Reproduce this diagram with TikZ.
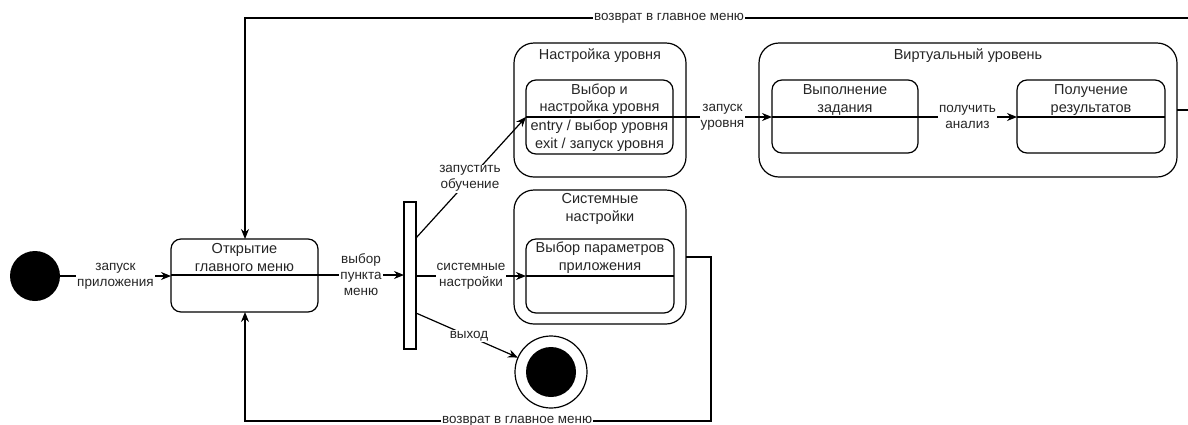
\documentclass[tikz,border=0pt]{standalone}
\usepackage{fontspec}
\setmainfont{Liberation Sans}
\usetikzlibrary{arrows.meta}
\begin{document}
\begin{tikzpicture}[x=1pt,y=-1pt,
  every node/.style={inner sep=0pt,outer sep=0pt},
  lw/.style={line width=1.2pt},
  stbox/.style={draw,lw,rounded corners=10pt},
  obox/.style={draw,lw,rounded corners=20pt},
  stxt/.style={font=\fontsize{14.5}{18}\selectfont,align=center,text=black!85},
  lbl/.style={font=\fontsize{13.5}{16}\selectfont,align=center,fill=white,inner sep=1pt,text=black!85},
  rlbl/.style={font=\fontsize{13.4}{15}\selectfont,fill=white,inner sep=1pt,text=black!85},
  arr/.style={lw,-{Stealth[length=10pt,width=8pt]}}
]
\useasboundingbox (0,0) rectangle (1188,424);
\clip (0,0) rectangle (1188,424);
\fill[white] (0,0) rectangle (1188,424);

% states
\node[circle,fill=black,minimum size=50pt] (init) at (35,276) {};
\node[stbox,minimum width=147pt,minimum height=73pt] (menu) at (244.5,275.5) {};
\node[stxt] (menutxt) at (244.5,258) {Открытие\\главного меню};
\draw[lw] (menu.west |- 0,275) coordinate (mdl) -- (menu.east |- 0,275) coordinate (mdr);

\node[draw,lw,fill=white,minimum width=12pt,minimum height=147pt] (bar) at (410,275.5) {};

\node[obox,minimum width=172pt,minimum height=134pt] (nastr) at (600,110) {};
\node[stxt] (nastrtxt) at (600,56) {Настройка уровня};
\node[stbox,minimum width=147pt,minimum height=74pt] (vybor) at (599.5,117) {};
\node[stxt,font=\fontsize{14.5}{17}\selectfont] (vybortxt) at (599.5,99.5) {Выбор и\\настройка уровня};
\node[stxt] (vyboract) at (599.5,136) {entry / выбор уровня\\exit / запуск уровня};
\draw[lw] (vybor.west) -- (vybor.east);

\node[obox,minimum width=172pt,minimum height=134pt] (sys) at (600,257) {};
\node[stxt] (systxt) at (600,209) {Системные\\настройки};
\node[stbox,minimum width=148pt,minimum height=74pt] (sysin) at (600,276) {};
\node[stxt] (sysintxt) at (600,258) {Выбор параметров\\приложения};
\draw[lw] (sysin.west) -- (sysin.east);

\node[circle,draw,lw,minimum size=72pt] (final) at (551,372) {};
\node[circle,fill=black,minimum size=50pt] (finalin) at (551,372) {};

\node[obox,minimum width=418pt,minimum height=134pt] (virt) at (968,110) {};
\node[stxt] (virttxt) at (968,56) {Виртуальный уровень};
\node[stbox,minimum width=146pt,minimum height=73pt] (vyp) at (845,116.5) {};
\node[stxt] (vyptxt) at (845,100) {Выполнение\\задания};
\draw[lw] (vyp.west |- 0,117) -- (vyp.east |- 0,117);
\node[stbox,minimum width=148pt,minimum height=73pt] (pol) at (1091,116.5) {};
\node[stxt] (poltxt) at (1091,100) {Получение\\результатов};
\draw[lw] (pol.west |- 0,117) -- (pol.east |- 0,117);

% transitions
\draw[arr] (init.east |- 0,276) -- node[lbl] (l1) {запуск\\приложения} (menu.west |- 0,276);
\draw[arr] (menu.east |- 0,275) -- node[lbl,pos=0.5] (l2) {выбор\\пункта\\меню} (bar.west |- 0,275);
\draw[arr] (bar.east |- 0,238) -- node[lbl,pos=0.49] (l3) {запустить\\обучение} (vybor.west);
\draw[arr] (bar.east |- 0,276) -- node[lbl,pos=0.5] (l4) {системные\\настройки} (sysin.west);
\draw[arr] (bar.east |- 0,313) -- node[lbl,pos=0.52] (l5) {выход} (final);
\draw[arr] (vybor.east) -- node[lbl,pos=0.5] (l6) {запуск\\уровня} (vyp.west |- 0,117);
\draw[arr] (vyp.east |- 0,117) -- node[lbl,pos=0.5] (l7) {получить\\анализ} (pol.west |- 0,117);

\coordinate (r1) at (1198,110);
\coordinate (r2) at (1198,18);
\coordinate (r3) at (245,18);
\draw[arr] (virt.east |- 0,110) -- (r1) -- (r2) -- node[rlbl,pos=0.555] (l8) {возврат в главное меню} (r3) -- (menu.north -| r3);

\coordinate (s1) at (711,257);
\coordinate (s2) at (711,421);
\coordinate (s3) at (245,421);
\draw[arr] (sys.east |- s1) -- (s1) -- (s2) -- node[rlbl,pos=0.416] (l9) {возврат в главное меню} (s3) -- (menu.south -| s3);
\end{tikzpicture}
\end{document}
